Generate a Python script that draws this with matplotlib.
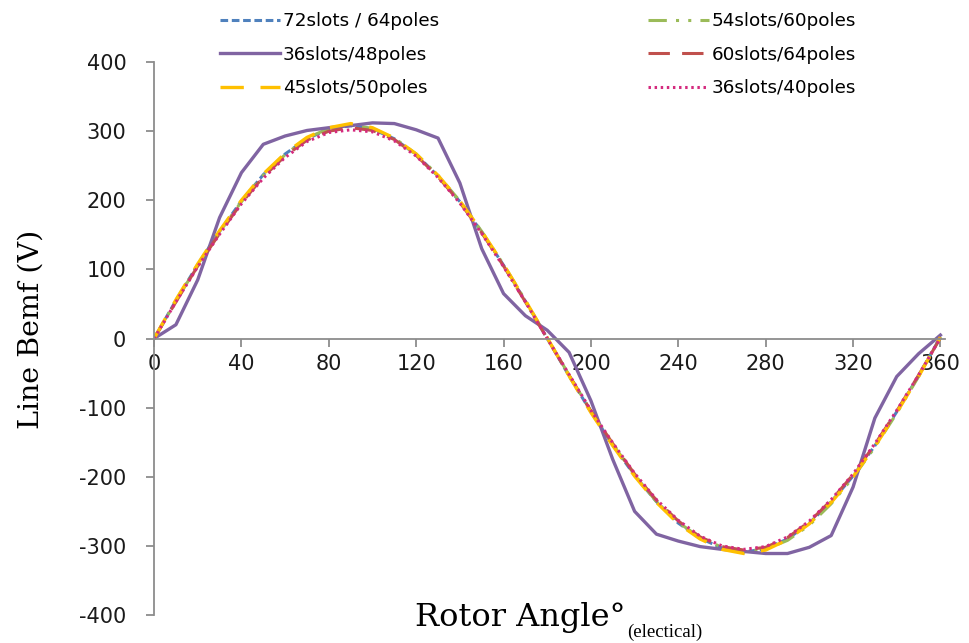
import matplotlib.pyplot as plt

angle = [0, 10, 20, 30, 40, 50, 60, 70, 80, 90, 100, 110, 120, 130, 140, 150, 160, 170, 180,
         190, 200, 210, 220, 230, 240, 250, 260, 270, 280, 290, 300, 310, 320, 330, 340, 350, 360]

s72_64 = [0, 55, 107, 155, 199, 237, 267, 289, 303, 308, 303, 289, 266, 235, 198, 154, 106, 54, 0,
          -54, -106, -154, -198, -236, -267, -289, -303, -309, -304, -290, -267, -236, -199, -155, -106, -54, 2]
s54_60 = [0, 54, 106, 154, 198, 236, 266, 290, 304, 309, 304, 290, 267, 236, 199, 155, 107, 55, 1,
          -53, -105, -153, -197, -236, -266, -288, -302, -308, -305, -292, -270, -239, -201, -157, -108, -55, 3]
s36_48 = [0, 20, 85, 175, 240, 281, 293, 301, 305, 308, 312, 311, 302, 290, 225, 130, 65, 33, 12,
          -20, -90, -175, -250, -283, -293, -301, -305, -308, -311, -311, -302, -285, -215, -115, -55, -22, 5]
s60_64 = [0, 53, 105, 152, 196, 234, 264, 287, 300, 305, 301, 288, 265, 234, 197, 153, 105, 53, 0,
          -53, -105, -152, -196, -234, -264, -287, -301, -306, -302, -288, -265, -234, -197, -153, -105, -53, 1]
s45_50 = [0, 56, 108, 156, 200, 238, 268, 291, 305, 311, 305, 290, 267, 236, 199, 155, 107, 55, 1,
          -54, -107, -155, -199, -237, -268, -290, -305, -311, -306, -291, -268, -237, -200, -156, -107, -55, 2]
s36_40 = [0, 53, 104, 151, 195, 232, 262, 285, 298, 302, 299, 286, 264, 233, 196, 152, 104, 53, 0,
          -52, -104, -151, -195, -233, -263, -286, -300, -305, -301, -287, -264, -233, -196, -152, -104, -53, 1]

labels = ['72slots / 64poles', '54slots/60poles', '36slots/48poles',
          '60slots/64poles', '45slots/50poles', '36slots/40poles']

plt.rcParams['axes.unicode_minus'] = False

fig = plt.figure(figsize=(9.69, 6.43), dpi=100)
ax = fig.add_axes([0.159, 0.0435, 0.816, 0.86])

l1, = ax.plot(angle, s72_64, color='#4F81BD', lw=2.2, linestyle=(0, (2.5, 1.2)))
l2, = ax.plot(angle, s54_60, color='#9BBB59', lw=2.2, linestyle=(0, (6, 3, 1, 3, 1, 3)))
l3, = ax.plot(angle, s36_48, color='#8064A2', lw=2.4, linestyle='-')
l4, = ax.plot(angle, s60_64, color='#C0504D', lw=2.2, linestyle=(0, (7, 4)))
l5, = ax.plot(angle, s45_50, color='#FFC000', lw=2.4, linestyle=(0, (7, 5)))
l6, = ax.plot(angle, s36_40, color='#D42A7E', lw=2.2, linestyle=(0, (0.8, 1.2)))

ax.set_xlim(0, 362)
ax.set_ylim(-400, 400)
ax.set_xticks(range(0, 361, 40))
ax.set_yticks(range(-400, 401, 100))

for s in ['top', 'right']:
    ax.spines[s].set_visible(False)
ax.spines['bottom'].set_position(('data', 0))
ax.spines['bottom'].set_color('#8C8C8C')
ax.spines['left'].set_color('#8C8C8C')
ax.spines['bottom'].set_linewidth(1.3)
ax.spines['left'].set_linewidth(1.3)
ax.tick_params(axis='both', colors='#8C8C8C', labelcolor='#1A1A1A', labelsize=15,
               width=1.3, length=6, direction='out')
ax.tick_params(axis='y', pad=14)
ax.tick_params(axis='x', pad=5)

# axis titles
fig.text(31 / 969, 0.487, 'Line Bemf (V)', family='DejaVu Serif', fontsize=20.5,
         rotation=90, ha='center', va='center')
xl = fig.text(415 / 969, 0.027, 'Rotor Angle°', family='DejaVu Serif', fontsize=23,
              ha='left', va='baseline')
fig.canvas.draw()
bb = xl.get_window_extent()
fig.text(bb.x1 / fig.bbox.width + 0.002, 0.009, '(electical)', family='Liberation Serif',
         fontsize=13.5, ha='left', va='baseline')

fig.legend([l1, l3, l5, l2, l4, l6],
           [labels[0], labels[2], labels[4], labels[1], labels[3], labels[5]],
           ncol=2, loc='upper left', bbox_to_anchor=(0.2095, 1.007), frameon=False,
           fontsize=13.2, handlelength=3.3, handletextpad=0.16, columnspacing=11.4,
           labelspacing=0.85)

plt.savefig('out.png')
